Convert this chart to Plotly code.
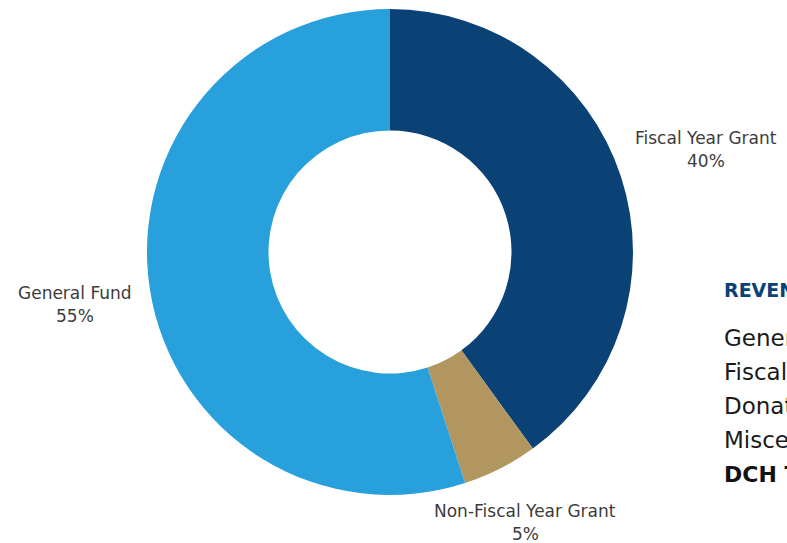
import plotly.graph_objects as go

labels = ["Fiscal Year Grant", "Non-Fiscal Year Grant", "General Fund"]
values = [40, 5, 55]
colors = ["#0a4276", "#b19660", "#27a0dc"]

side_title = "REVENUE SOURCES"
side_items = ["General Fund", "Fiscal Year Grant", "Donations", "Miscellaneous"]
side_total = "DCH TOTAL"

W, H = 787, 543
cx, cy, r = 390, 252, 243

fig = go.Figure(go.Pie(
    labels=labels, values=values, hole=0.5, sort=False, direction="clockwise",
    rotation=0, textinfo="none", hoverinfo="label+percent",
    marker=dict(colors=colors, line=dict(width=0)),
    domain=dict(x=[(cx - r) / W, (cx + r) / W], y=[1 - (cy + r) / H, 1 - (cy - r) / H]),
))

font = "DejaVu Sans"
lab_pos = {"Fiscal Year Grant": (706, 138), "Non-Fiscal Year Grant": (525, 511), "General Fund": (75, 293)}
total = sum(values)
anns = []


def ann(x, y, text, size, color, xanchor="center"):
    anns.append(dict(x=x / W, y=1 - y / H, xref="paper", yref="paper", xanchor=xanchor, yanchor="middle",
                     showarrow=False, text=text, font=dict(family=font, size=size, color=color)))


for lab, v in zip(labels, values):
    x, y = lab_pos[lab]
    ann(x, y, lab, 17, "#3c3c3c")
    ann(x, y + 23, f"{round(100 * v / total)}%", 17, "#3c3c3c")

ann(722, 290, f"<b>{side_title}</b>", 19, "#0a4276", "left")
for i, t in enumerate(side_items):
    ann(722, 338 + 34 * i, t, 23, "#1a1a1a", "left")
ann(722, 474, f"<b>{side_total}</b>", 22, "#111111", "left")

fig.update_layout(width=W, height=H, margin=dict(l=0, r=0, t=0, b=0), showlegend=False,
                  paper_bgcolor="white", plot_bgcolor="white", annotations=anns)
fig.write_html("out.html")
